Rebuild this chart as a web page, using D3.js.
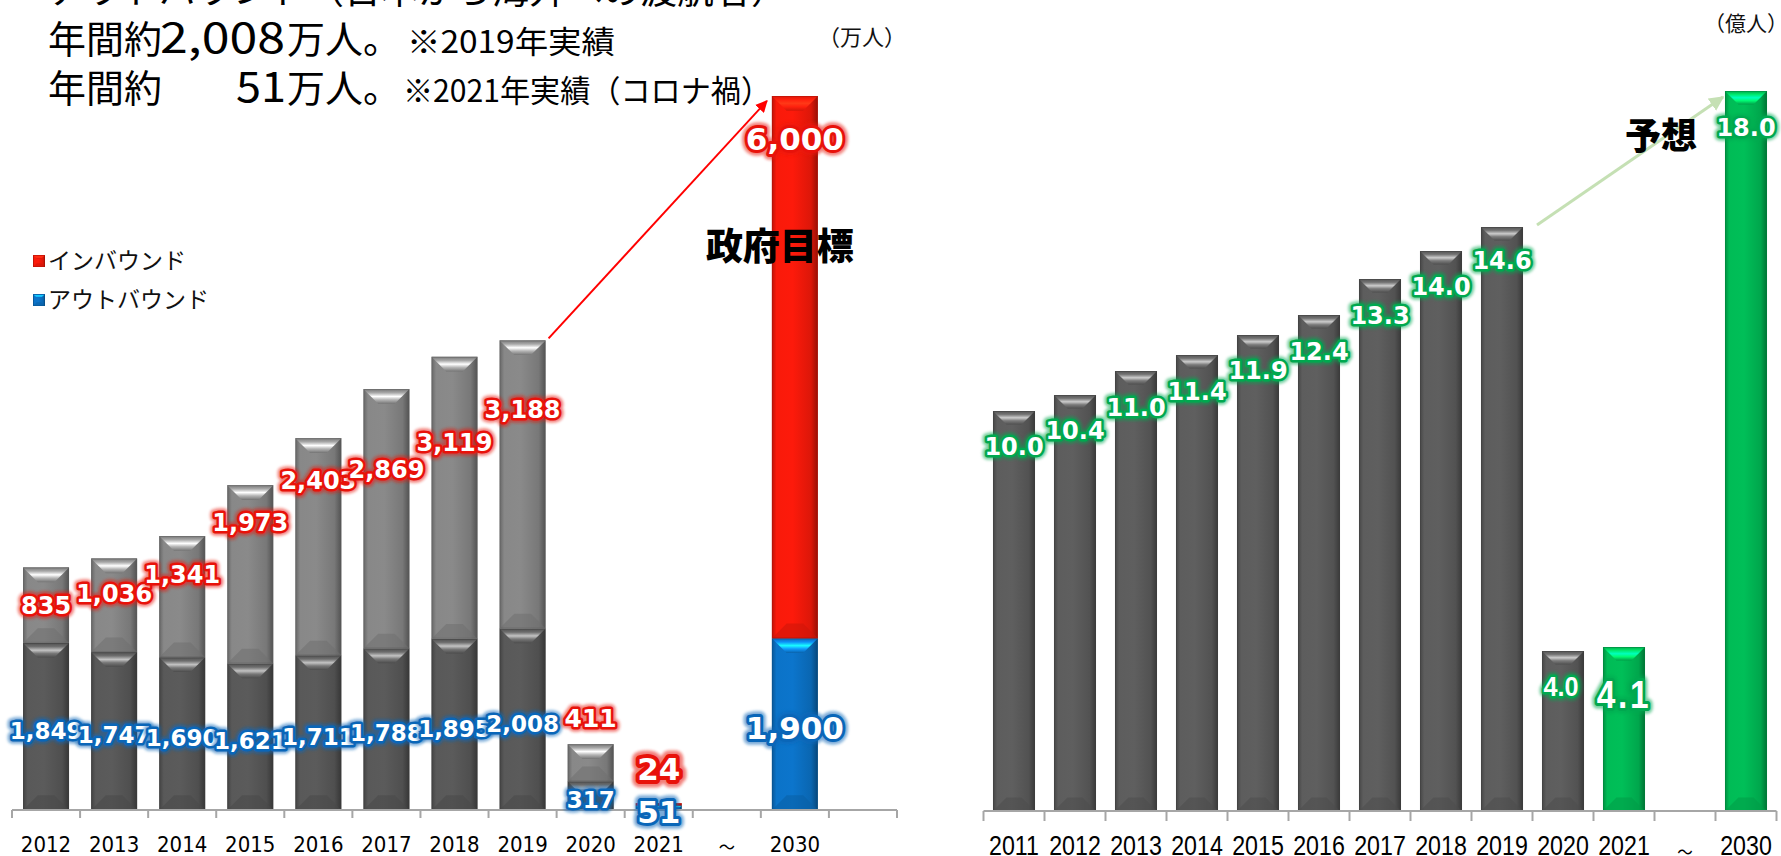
<!DOCTYPE html>
<html><head><meta charset="utf-8">
<script src="https://cdn.jsdelivr.net/npm/d3@7"></script>
<style>
html,body{margin:0;padding:0;background:#fff;overflow:hidden;}
svg{display:block;}
</style></head><body>
<svg id="c" width="1781" height="856"></svg>
<script>
// ---------------- data ----------------
const leftCategories = ["2012","2013","2014","2015","2016","2017","2018","2019","2020","2021","～","2030",""];
const outboundValues = [1849,1747,1690,1621,1711,1788,1895,2008,317,51,null,1900,null];
const inboundValues  = [835,1036,1341,1973,2403,2869,3119,3188,411,24,null,6000,null];
const leftColoredCats = ["2021","2030"];
const legendLabels = ["インバウンド","アウトバウンド"];

const rightCategories = ["2011","2012","2013","2014","2015","2016","2017","2018","2019","2020","2021","～","2030"];
const spendingValues = [10.0,10.4,11.0,11.4,11.9,12.4,13.3,14.0,14.6,4.0,4.1,null,18.0];
const rightColoredCats = ["2021","2030"];

const headLine = "アウトバウンド（日本から海外への渡航者）";
const titleWord = "年間約", titleUnit = "万人。";
const titleNumbers = ["2,008","51"];
const titleNotes = ["※2019年実績","※2021年実績（コロナ禍）"];
const leftUnit = "（万人）", rightUnit = "（億人）";
const leftAnnotation = "政府目標", rightAnnotation = "予想";

// label nudges (px, relative to stack top) – layout only
const inboundLabelDy = [38,35,38,37,42,80,86,69,-26,-34,0,43,0];
const spendingLabelDy = [35,35,36,36,35,36,36,35,33,35,47,0,36];

// ---------------- setup ----------------
const svg = d3.select("#c");
const defs = svg.append("defs");
defs.append("filter").attr("id","blur").attr("x","-20%").attr("y","-40%").attr("width","140%").attr("height","180%")
  .append("feGaussianBlur").attr("stdDeviation",1.6);

function palette(id, base){
  const c = d3.color(base);
  const body = defs.append("linearGradient").attr("id",id+"-body").attr("x1",0).attr("x2",1).attr("y1",0).attr("y2",0);
  [[0,c.darker(0.7)],[0.1,c.brighter(0.1)],[0.45,c.brighter(0.15)],[0.85,c.darker(0.25)],[1,c.darker(1.3)]]
    .forEach(([o,col])=>body.append("stop").attr("offset",o).attr("stop-color",col));
  const top = defs.append("linearGradient").attr("id",id+"-top").attr("x1",0).attr("x2",0).attr("y1",0).attr("y2",1);
  [[0,c.darker(0.25)],[0.25,c.brighter(0.7)],[0.5,c.brighter(2.3)],[0.72,c.brighter(0.9)],[1,c.darker(0.35)]]
    .forEach(([o,col])=>top.append("stop").attr("offset",o).attr("stop-color",col));
  return {id, base, edge: c.darker(0.9), bottom: c.darker(0.45)};
}
const P = {
  grayIn: palette("gin","#838383"),
  grayOut: palette("gout","#565656"),
  grayR: palette("gr","#5a5a5a"),
  red: palette("red","#F0190A"),
  blue: palette("blue","#0B6FC1"),
  green: palette("green","#00B553")
};

function bevelBar(g, x, y, w, h, p){
  if (h <= 0) return;
  const d = Math.min(w*0.32, h/2);
  const b = g.append("g");
  b.append("rect").attr("x",x).attr("y",y).attr("width",w).attr("height",h)
    .attr("fill",`url(#${p.id}-body)`);
  b.append("polygon").attr("points",[[x,y+h],[x+w,y+h],[x+w-d,y+h-d],[x+d,y+h-d]].map(q=>q.join(",")).join(" "))
    .attr("fill",p.bottom).attr("opacity",0.55);
  b.append("polygon").attr("points",[[x,y],[x+w,y],[x+w-d,y+d],[x+d,y+d]].map(q=>q.join(",")).join(" "))
    .attr("fill",`url(#${p.id}-top)`);
  b.append("rect").attr("x",x+0.5).attr("y",y+0.5).attr("width",w-1).attr("height",h-1)
    .attr("fill","none").attr("stroke",p.edge).attr("stroke-opacity",0.45).attr("stroke-width",1);
}

function outlinedText(g, txt, x, y, o){
  const size=o.size, color=o.color, fam=o.family||"DejaVu Sans", wt=o.weight||"bold", sx=o.sx||1, ls=o.ls||0, sw=o.sw||size*0.2;
  const grp = g.append("g").attr("transform",`translate(${x},${y}) scale(${sx},1)`);
  const base = sel => sel.text(txt).attr("text-anchor","middle").attr("dy","0.36em")
      .attr("font-family",fam).attr("font-weight",wt).attr("font-size",size).attr("letter-spacing",ls)
      .attr("stroke-linejoin","round");
  grp.append("text").call(base).attr("fill",color).attr("stroke",color).attr("stroke-width",sw*1.9)
     .attr("opacity",0.55).attr("filter","url(#blur)");
  grp.append("text").call(base).attr("fill","#fff").attr("stroke",color).attr("stroke-width",sw)
     .attr("paint-order","stroke");
}

const fmtInt = d3.format(",");
const fmt1 = d3.format(".1f");

// ---------------- left chart ----------------
const xL = d3.scaleBand().domain(leftCategories).range([12,897]).paddingInner(0.324).paddingOuter(0.162);
const yL = d3.scaleLinear().domain([0,7900]).range([810,96]);
const gL = svg.append("g");
const bwL = xL.bandwidth();

leftCategories.forEach((c,i)=>{
  const o = outboundValues[i], n = inboundValues[i];
  if (o==null) return;
  const colored = leftColoredCats.includes(c);
  const x = xL(c);
  bevelBar(gL, x, yL(o), bwL, yL(0)-yL(o), colored?P.blue:P.grayOut);
  bevelBar(gL, x, yL(o+n), bwL, yL(o)-yL(o+n), colored?P.red:P.grayIn);
});

// axis line + boundary ticks
const axY = yL(0);
gL.append("line").attr("x1",xL.range()[0]).attr("x2",xL.range()[1]).attr("y1",axY).attr("y2",axY)
  .attr("stroke","#a6a6a6").attr("stroke-width",2);
d3.range(leftCategories.length+1).forEach(i=>{
  const xx = xL.range()[0] + i*xL.step();
  gL.append("line").attr("x1",xx).attr("x2",xx).attr("y1",axY).attr("y2",axY+8).attr("stroke","#a6a6a6").attr("stroke-width",2);
});
const axL = gL.append("g").attr("transform",`translate(0,${axY})`).call(d3.axisBottom(xL).tickSize(0));
axL.select(".domain").remove();
axL.selectAll("text").attr("y",42).attr("dy",null).attr("fill","#000")
  .attr("font-family","DejaVu Sans").attr("font-size",22).attr("transform","scale(0.9,1)");
axL.selectAll(".tick").filter(d=>d==="～").select("text").attr("font-size",18).attr("y",44).attr("font-family","Noto Sans CJK JP");

// labels
leftCategories.forEach((c,i)=>{
  const o = outboundValues[i];
  if (o==null) return;
  const big = leftColoredCats.includes(c);
  const cx = xL(c)+bwL/2;
  outlinedText(gL, fmtInt(o), cx, (yL(0)+yL(o))/2+4, {size: big?31:23, color:"#0A66B8", sw: big?6:5});
});
leftCategories.forEach((c,i)=>{
  const o = outboundValues[i], n = inboundValues[i];
  if (o==null) return;
  const big = leftColoredCats.includes(c);
  const cx = xL(c)+bwL/2;
  outlinedText(gL, fmtInt(n), cx, yL(o+n)+inboundLabelDy[i], {size: big?31:(c==="2020"?25:24), color:"#E8120A", sw: c==="2021"?8:(big?6:5)});
});

// legend
[[P.red,legendLabels[0]],[P.blue,legendLabels[1]]].forEach(([p,t],k)=>{
  const ly = 261 + k*39;
  bevelBar(gL, 33, ly-6, 12, 12, p);
  gL.append("text").attr("x",48).attr("y",ly+8).text(t).attr("font-family","Noto Sans CJK JP").attr("font-size",23).attr("fill","#111");
});

// red arrow
defs.append("marker").attr("id","arRed").attr("viewBox","0 0 10 10").attr("refX",9).attr("refY",5)
  .attr("markerWidth",6).attr("markerHeight",6).attr("orient","auto")
  .append("path").attr("d","M0,0 L10,5 L0,10 z").attr("fill","#FF0000");
gL.append("line")
  .attr("x1",xL("2019")+bwL+3).attr("y1",yL(outboundValues[7]+inboundValues[7])-2)
  .attr("x2",xL("2030")-5).attr("y2",yL(outboundValues[11]+inboundValues[11])+5)
  .attr("stroke","#FF0000").attr("stroke-width",2).attr("marker-end","url(#arRed)");

gL.append("text").attr("x",xL("2030")+bwL/2-15).attr("y",260).attr("text-anchor","middle").text(leftAnnotation)
  .attr("font-family","Noto Sans CJK JP").attr("font-weight",900).attr("font-size",37).attr("fill","#000");

gL.append("text").attr("x",862).attr("y",45).attr("text-anchor","middle").text(leftUnit)
  .attr("font-family","Noto Sans CJK JP").attr("font-size",22).attr("fill","#111");

// title text
const tf = "Noto Sans CJK JP";
function tText(txt, x, y, size, len){
  const t = svg.append("text").attr("x",x).attr("y",y).text(txt).attr("font-family",tf).attr("font-size",size).attr("fill","#000");
  if (len) t.attr("textLength",len).attr("lengthAdjust","spacingAndGlyphs");
  return t;
}
tText(headLine, 48, 4, 37);
tText(titleWord, 48, 53, 38);
tText(titleNumbers[0], 160, 53, 42, 125);
tText(titleUnit, 287, 53, 38);
tText(titleNotes[0], 407, 53, 31, 208);
tText(titleWord, 48, 102, 38);
tText(titleNumbers[1], 236, 102, 42, 50);
tText(titleUnit, 287, 102, 38);
tText(titleNotes[1], 403, 102, 31, 368);

// ---------------- right chart ----------------
const xR = d3.scaleBand().domain(rightCategories).range([983.5,1776.5]).paddingInner(0.311).paddingOuter(0.1555);
const yR = d3.scaleLinear().domain([0,18]).range([811,91]);
const gR = svg.append("g");
const bwR = xR.bandwidth();

// green arrow (drawn under bars)
defs.append("marker").attr("id","arGreen").attr("viewBox","0 0 10 10").attr("refX",9).attr("refY",5)
  .attr("markerWidth",5).attr("markerHeight",5).attr("orient","auto")
  .append("path").attr("d","M0,0 L10,5 L0,10 z").attr("fill","#C5E0B4");
gR.append("line")
  .attr("x1",xR("2019")+bwR+14).attr("y1",yR(spendingValues[8])-2)
  .attr("x2",xR("2030")-2).attr("y2",yR(spendingValues[12])+6)
  .attr("stroke","#C5E0B4").attr("stroke-width",3).attr("marker-end","url(#arGreen)");

rightCategories.forEach((c,i)=>{
  const v = spendingValues[i];
  if (v==null) return;
  bevelBar(gR, xR(c), yR(v), bwR, yR(0)-yR(v), rightColoredCats.includes(c)?P.green:P.grayR);
});
const axYR = yR(0);
gR.append("line").attr("x1",xR.range()[0]).attr("x2",xR.range()[1]).attr("y1",axYR).attr("y2",axYR)
  .attr("stroke","#a6a6a6").attr("stroke-width",2);
d3.range(rightCategories.length+1).forEach(i=>{
  const xx = xR.range()[0] + i*xR.step();
  gR.append("line").attr("x1",xx).attr("x2",xx).attr("y1",axYR).attr("y2",axYR+10).attr("stroke","#a6a6a6").attr("stroke-width",2);
});
const axR = gR.append("g").attr("transform",`translate(0,${axYR})`).call(d3.axisBottom(xR).tickSize(0));
axR.select(".domain").remove();
axR.selectAll("text").attr("y",44).attr("dy",null).attr("fill","#000")
  .attr("font-family","Liberation Sans").attr("font-size",27).attr("transform","scale(0.86,1)");
axR.selectAll(".tick").filter(d=>d==="～").select("text").attr("font-size",18).attr("y",48).attr("font-family","Noto Sans CJK JP");

rightCategories.forEach((c,i)=>{
  const v = spendingValues[i];
  if (v==null) return;
  const cx = xR(c)+bwR/2, ly = yR(v)+spendingLabelDy[i];
  if (c==="2020") outlinedText(gR, fmt1(v), cx-2, ly, {size:28, color:"#00A84F", family:"Liberation Sans", sx:0.9, sw:5});
  else if (c==="2021") outlinedText(gR, fmt1(v), cx, ly, {size:38, color:"#00A84F", family:"Liberation Sans", weight:"bold", ls:3, sx:0.88, sw:6});
  else outlinedText(gR, fmt1(v), cx, ly, {size:24, color:"#00A84F", sw:5});
});

gR.append("text").attr("x",1661).attr("y",149).attr("text-anchor","middle").text(rightAnnotation)
  .attr("font-family","Noto Sans CJK JP").attr("font-weight",900).attr("font-size",36).attr("fill","#000");
gR.append("text").attr("x",1746).attr("y",31).attr("text-anchor","middle").text(rightUnit)
  .attr("font-family","Noto Sans CJK JP").attr("font-size",21).attr("fill","#111");
</script>
</body></html>
